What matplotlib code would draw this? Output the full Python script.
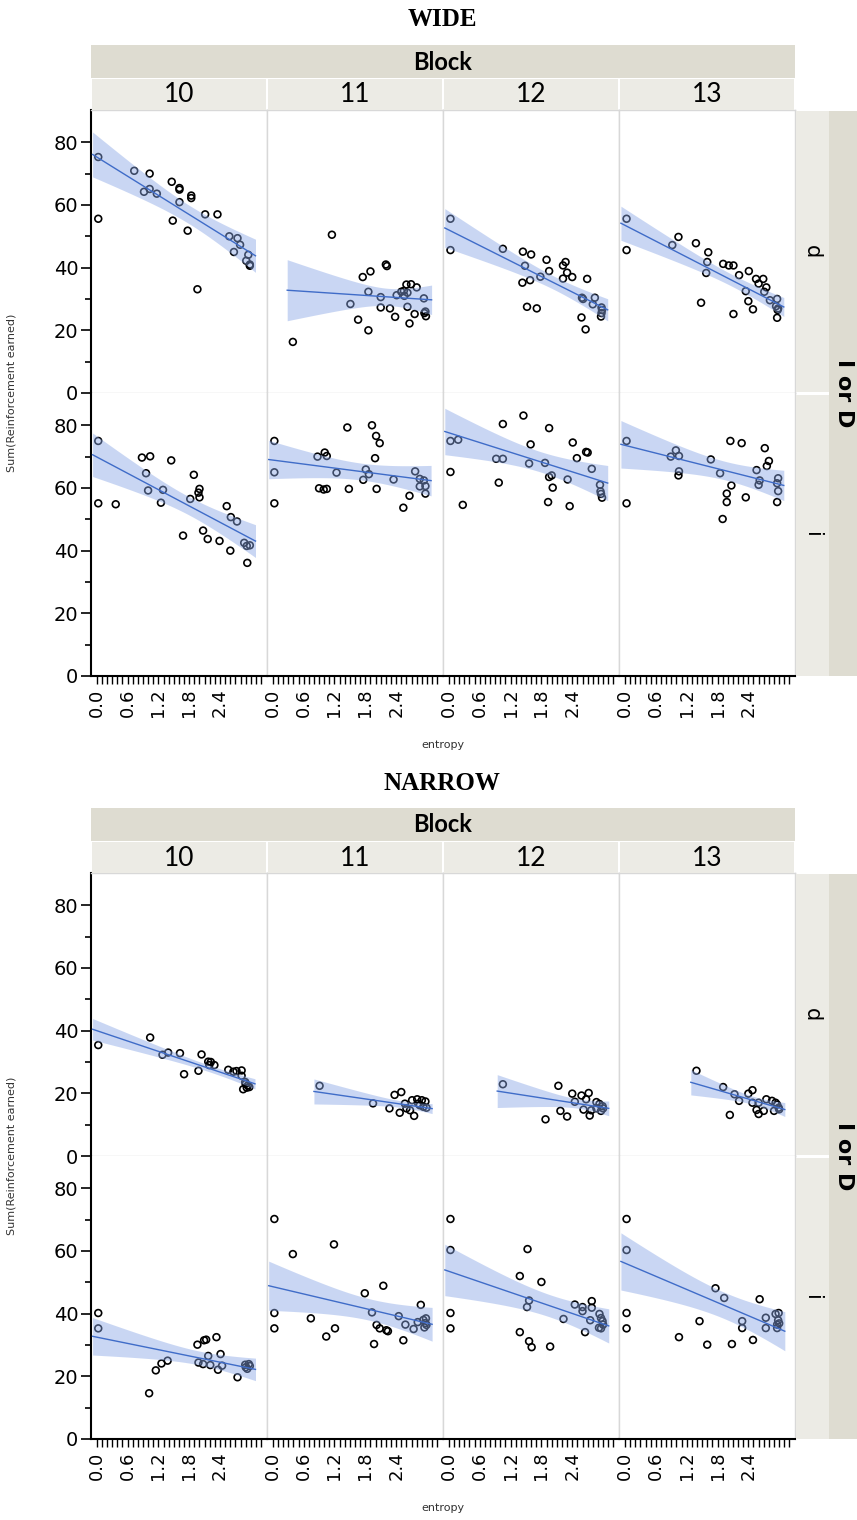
import numpy as np
import matplotlib
matplotlib.use("Agg")
import matplotlib.pyplot as plt
from matplotlib.patches import Rectangle
from matplotlib.ticker import FixedLocator

# ---------------- data ----------------
TITLES = ["WIDE", "NARROW"]
BLOCKS = ["10", "11", "12", "13"]
ROWS = ["d", "i"]
X_TICKS = [0.0, 0.6, 1.2, 1.8, 2.4]
X_TICK_LABELS = ["0.0", "0.6", "1.2", "1.8", "2.4"]
Y_TICKS = [0, 20, 40, 60, 80]

WIDE_D10_X = [0.03, 0.03, 0.73, 1.03, 0.92, 1.03, 1.17, 1.46, 1.61, 1.61, 1.61, 1.48, 1.84, 1.84, 1.77, 2.11, 2.35, 1.96, 2.58, 2.74, 2.79, 2.67, 2.95, 2.91, 2.98, 2.98]
WIDE_D10_Y = [75.3, 55.6, 70.9, 70.0, 64.2, 65.1, 63.6, 67.4, 64.9, 65.4, 60.9, 55.0, 63.0, 62.2, 51.8, 57.0, 57.0, 33.1, 50.0, 49.4, 47.3, 45.0, 44.1, 42.2, 41.0, 40.6]
WIDE_D11_X = [1.15, 0.39, 1.51, 1.66, 1.86, 1.86, 1.75, 1.90, 2.20, 2.22, 2.10, 2.10, 2.28, 2.38, 2.41, 2.50, 2.55, 2.60, 2.69, 2.80, 2.56, 2.62, 2.62, 2.66, 2.76, 2.94, 2.95, 2.97, 2.98]
WIDE_D11_Y = [50.5, 16.3, 28.4, 23.4, 20.0, 32.3, 37.0, 38.8, 41.0, 40.5, 30.6, 27.3, 27.0, 24.3, 31.2, 32.3, 32.6, 34.6, 34.7, 33.7, 31.0, 32.0, 27.5, 22.2, 25.2, 30.2, 25.5, 26.0, 24.5]
WIDE_D12_X = [0.03, 0.03, 1.05, 1.44, 1.60, 1.48, 1.43, 1.58, 1.78, 1.52, 1.71, 1.90, 1.95, 2.22, 2.27, 2.30, 2.22, 2.40, 2.69, 2.59, 2.61, 2.84, 2.80, 2.58, 2.66, 2.97, 2.98, 2.97, 2.96]
WIDE_D12_Y = [55.6, 45.6, 46.0, 45.1, 44.2, 40.6, 35.2, 36.0, 37.1, 27.5, 27.0, 42.5, 38.9, 40.7, 41.8, 38.4, 36.5, 37.0, 36.4, 30.4, 30.0, 30.4, 28.3, 24.1, 20.3, 27.3, 26.5, 25.5, 24.4]
WIDE_D13_X = [0.03, 0.03, 0.92, 1.04, 1.38, 1.62, 1.60, 1.58, 1.48, 1.91, 2.02, 2.11, 2.22, 2.41, 2.11, 2.35, 2.40, 2.49, 2.55, 2.69, 2.60, 2.75, 2.71, 2.82, 2.96, 2.94, 2.97, 2.98, 2.96]
WIDE_D13_Y = [55.6, 45.6, 47.2, 49.8, 47.8, 44.9, 41.8, 38.3, 28.8, 41.2, 40.7, 40.7, 37.6, 38.9, 25.2, 32.5, 29.3, 26.7, 36.4, 36.4, 34.9, 33.7, 32.3, 29.6, 30.0, 27.7, 26.5, 27.0, 24.0]

WIDE_I10_X = [0.03, 0.03, 0.37, 0.88, 1.04, 0.96, 1.00, 1.29, 1.25, 1.45, 1.68, 1.82, 1.89, 2.00, 1.98, 2.00, 2.07, 2.16, 2.39, 2.53, 2.61, 2.73, 2.60, 2.87, 2.92, 2.98, 2.93]
WIDE_I10_Y = [75.0, 55.1, 54.8, 69.7, 70.1, 64.7, 59.2, 59.4, 55.3, 68.8, 44.8, 56.5, 64.2, 59.7, 58.5, 57.0, 46.4, 43.7, 43.1, 54.2, 50.7, 49.3, 40.0, 42.5, 41.5, 41.7, 36.1]
WIDE_I11_X = [0.03, 0.03, 0.03, 0.87, 1.01, 1.05, 0.90, 0.99, 1.05, 1.24, 1.45, 1.48, 1.76, 1.81, 1.87, 1.93, 2.01, 2.08, 1.99, 2.02, 2.35, 2.54, 2.66, 2.77, 2.86, 2.94, 2.86, 2.97, 2.97]
WIDE_I11_Y = [75.0, 65.0, 55.1, 70.0, 71.3, 70.2, 59.9, 59.5, 59.7, 64.9, 79.3, 59.7, 62.6, 65.9, 64.4, 80.0, 76.6, 74.3, 69.5, 59.7, 62.7, 53.7, 57.5, 65.3, 62.9, 62.4, 60.5, 60.6, 58.2]
WIDE_I12_X = [0.03, 0.18, 0.03, 0.27, 1.05, 0.92, 1.05, 0.97, 1.45, 1.59, 1.56, 1.87, 1.95, 1.95, 2.00, 2.02, 1.93, 2.31, 2.35, 2.41, 2.49, 2.67, 2.70, 2.78, 2.94, 2.95, 2.96, 2.98]
WIDE_I12_Y = [75.0, 75.4, 65.1, 54.6, 80.4, 69.3, 69.3, 61.7, 83.1, 73.9, 67.8, 68.0, 79.1, 63.5, 64.0, 60.1, 55.5, 62.7, 54.2, 74.5, 69.5, 71.5, 71.3, 66.1, 61.0, 58.9, 58.1, 56.9]
WIDE_I13_X = [0.03, 0.03, 0.89, 0.99, 1.05, 1.05, 1.04, 1.67, 1.85, 2.05, 2.27, 2.07, 1.98, 1.98, 1.90, 2.35, 2.56, 2.62, 2.60, 2.72, 2.80, 2.76, 2.98, 2.96, 2.98, 2.96]
WIDE_I13_Y = [75.0, 55.1, 70.0, 72.0, 70.2, 65.3, 64.0, 69.1, 64.7, 75.0, 74.3, 60.8, 58.2, 55.5, 50.1, 57.0, 65.7, 62.4, 61.0, 72.7, 68.6, 67.0, 63.1, 61.5, 59.0, 55.5]

NARROW_D10_X = [0.03, 1.04, 1.28, 1.39, 1.62, 1.70, 1.98, 2.04, 2.17, 2.22, 2.29, 2.19, 2.56, 2.66, 2.72, 2.82, 2.82, 2.85, 2.90, 2.94, 2.97, 2.92, 2.89]
NARROW_D10_Y = [35.4, 37.8, 32.3, 33.0, 32.8, 26.1, 27.2, 32.4, 30.1, 30.0, 29.0, 29.0, 27.5, 26.9, 27.1, 27.3, 25.6, 21.3, 23.0, 22.5, 22.0, 21.8, 23.6]
NARROW_D11_X = [0.91, 1.95, 2.27, 2.37, 2.50, 2.47, 2.60, 2.75, 2.67, 2.71, 2.81, 2.90, 2.97, 2.83, 2.93, 2.99, 2.86, 2.57]
NARROW_D11_Y = [22.4, 16.8, 15.2, 19.5, 20.4, 13.8, 15.2, 12.8, 14.6, 17.8, 18.1, 17.8, 17.4, 16.7, 15.7, 15.4, 16.2, 16.7]
NARROW_D12_X = [1.05, 2.13, 1.88, 2.17, 2.30, 2.40, 2.45, 2.58, 2.72, 2.67, 2.62, 2.77, 2.74, 2.87, 2.93, 2.99, 2.96, 2.87, 3.00]
NARROW_D12_Y = [22.9, 22.4, 11.7, 14.4, 12.6, 19.9, 17.3, 19.3, 20.1, 18.1, 14.8, 14.6, 12.9, 17.2, 16.6, 15.9, 14.4, 15.2, 15.2]
NARROW_D13_X = [1.39, 1.91, 2.13, 2.22, 2.04, 2.40, 2.48, 2.48, 2.60, 2.56, 2.60, 2.70, 2.75, 2.86, 2.93, 2.99, 2.90, 3.00, 2.96]
NARROW_D13_Y = [27.2, 22.0, 19.7, 17.6, 13.1, 19.9, 21.0, 17.0, 17.0, 14.7, 13.4, 14.4, 18.1, 17.6, 17.0, 15.4, 14.4, 14.9, 16.4]

NARROW_I10_X = [0.03, 0.03, 1.02, 1.15, 1.26, 1.38, 1.96, 2.09, 2.13, 2.33, 2.17, 2.41, 1.98, 2.07, 2.21, 2.36, 2.44, 2.74, 2.90, 2.96, 2.93, 2.98, 2.89]
NARROW_I10_Y = [40.2, 35.3, 14.6, 21.9, 24.1, 25.0, 30.1, 31.5, 31.7, 32.5, 26.5, 27.1, 24.4, 23.9, 23.6, 22.1, 23.4, 19.7, 22.9, 23.9, 22.4, 23.3, 23.7]
NARROW_I11_X = [0.03, 0.03, 0.03, 0.39, 0.74, 1.04, 1.21, 1.19, 1.79, 2.15, 1.93, 2.02, 2.08, 2.21, 2.24, 1.97, 2.45, 2.54, 2.58, 2.74, 2.88, 2.82, 2.93, 2.98, 2.95, 2.99, 2.97]
NARROW_I11_Y = [70.2, 40.2, 35.3, 59.0, 38.5, 32.7, 35.3, 62.1, 46.5, 48.9, 40.4, 36.4, 35.3, 34.7, 34.4, 30.3, 39.2, 31.5, 36.5, 35.1, 42.8, 37.3, 38.0, 38.5, 35.6, 36.4, 37.0]
NARROW_I12_X = [0.03, 0.03, 0.03, 0.03, 1.53, 1.38, 1.80, 1.56, 1.52, 1.38, 1.56, 1.61, 1.97, 2.23, 2.45, 2.60, 2.60, 2.78, 2.78, 2.65, 2.75, 2.93, 2.96, 2.99, 2.92, 2.96, 3.00]
NARROW_I12_Y = [70.2, 60.3, 40.2, 35.3, 60.6, 52.0, 50.1, 44.2, 42.1, 34.1, 31.2, 29.3, 29.5, 38.3, 42.9, 42.1, 40.8, 44.0, 41.9, 34.1, 37.9, 39.9, 38.6, 37.6, 35.5, 35.3, 36.5]
NARROW_I13_X = [0.03, 0.03, 0.03, 0.03, 1.05, 1.45, 1.60, 1.76, 1.93, 2.08, 2.28, 2.28, 2.49, 2.62, 2.74, 2.74, 2.93, 2.99, 2.96, 2.98, 3.00, 2.96]
NARROW_I13_Y = [70.2, 60.3, 40.2, 35.3, 32.5, 37.6, 30.1, 48.1, 45.0, 30.3, 37.6, 35.4, 31.6, 44.6, 38.7, 35.4, 39.9, 40.2, 35.4, 37.9, 36.9, 36.5]

# fitted lines (intercept, slope per block 10..13)
WIDE_D_FIT_B0 = [75.3, 33.1, 52.0, 53.5]
WIDE_D_FIT_B1 = [-10.2, -1.09, -8.24, -8.43]
WIDE_I_FIT_B0 = [69.9, 68.9, 77.6, 73.6]
WIDE_I_FIT_B1 = [-8.69, -2.13, -5.19, -4.14]
NARROW_D_FIT_B0 = [40.0, 22.5, 23.1, 29.6]
NARROW_D_FIT_B1 = [-5.51, -2.38, -2.54, -4.75]
NARROW_I_FIT_B0 = [32.5, 48.6, 53.5, 56.1]
NARROW_I_FIT_B1 = [-3.33, -3.87, -5.60, -6.98]

PANELS = {
    ("WIDE", "d"): [(WIDE_D10_X, WIDE_D10_Y), (WIDE_D11_X, WIDE_D11_Y), (WIDE_D12_X, WIDE_D12_Y), (WIDE_D13_X, WIDE_D13_Y)],
    ("WIDE", "i"): [(WIDE_I10_X, WIDE_I10_Y), (WIDE_I11_X, WIDE_I11_Y), (WIDE_I12_X, WIDE_I12_Y), (WIDE_I13_X, WIDE_I13_Y)],
    ("NARROW", "d"): [(NARROW_D10_X, NARROW_D10_Y), (NARROW_D11_X, NARROW_D11_Y), (NARROW_D12_X, NARROW_D12_Y), (NARROW_D13_X, NARROW_D13_Y)],
    ("NARROW", "i"): [(NARROW_I10_X, NARROW_I10_Y), (NARROW_I11_X, NARROW_I11_Y), (NARROW_I12_X, NARROW_I12_Y), (NARROW_I13_X, NARROW_I13_Y)],
}
FITS = {
    ("WIDE", "d"): (WIDE_D_FIT_B0, WIDE_D_FIT_B1),
    ("WIDE", "i"): (WIDE_I_FIT_B0, WIDE_I_FIT_B1),
    ("NARROW", "d"): (NARROW_D_FIT_B0, NARROW_D_FIT_B1),
    ("NARROW", "i"): (NARROW_I_FIT_B0, NARROW_I_FIT_B1),
}

# ---------------- figure ----------------
W, H = 857, 1520
fig = plt.figure(figsize=(W / 100, H / 100), dpi=100)

STRIP_DARK = "#dedcd1"
STRIP_LIGHT = "#ecebe5"
GRID = "#d8d8d8"
BAND = "#89a6e6"
LINE = "#3f6cc8"


def fx(px):
    return px / W


def fy(py):
    return 1 - py / H


def rect(x0, y0, x1, y1, color):
    fig.patches.append(Rectangle((fx(x0), fy(y1)), fx(x1) - fx(x0), fy(y0) - fy(y1),
                                 transform=fig.transFigure, facecolor=color,
                                 edgecolor="none", zorder=0))


def t_quant(df):
    z = 1.959964
    return z + (z ** 3 + z) / (4 * df) + (5 * z ** 5 + 16 * z ** 3 + 3 * z) / (96 * df ** 2)


def band(x, y, b0, b1, xs):
    """Line b0 + b1*x with a 95% confidence band built from the data's scatter."""
    x = np.asarray(x, float)
    y = np.asarray(y, float)
    n = len(x)
    resid = y - (b0 + b1 * x)
    s = np.sqrt(resid @ resid / (n - 2))
    mx = x.mean()
    sxx = ((x - mx) ** 2).sum()
    pred = b0 + b1 * xs
    half = t_quant(n - 2) * s * np.sqrt(1.0 / n + (xs - mx) ** 2 / sxx)
    return pred, pred - half, pred + half


LEFT = 90.7
PW = 176.1
XLIM = (-0.117, 3.31)
YLIM = (0, 90.3)
PAD = 0.11

for k, title in enumerate(TITLES):
    top = k * 763
    fig.text(fx(442), fy(top + 20), title, ha="center", va="center",
             fontsize=18, fontweight="bold", family="Liberation Serif")
    rect(LEFT, top + 45, LEFT + 4 * PW, top + 78, STRIP_DARK)
    fig.text(fx(LEFT + 2 * PW), fy(top + 62), "Block", ha="center", va="center",
             fontsize=17, fontweight="bold", family="Lato")
    for c, b in enumerate(BLOCKS):
        x0 = LEFT + c * PW
        rect(x0 + 1, top + 79, x0 + PW - 1, top + 110, STRIP_LIGHT)
        fig.text(fx(x0 + PW / 2), fy(top + 95), b, ha="center", va="center",
                 fontsize=19, family="Lato")
    # right strips
    rect(LEFT + 4 * PW + 1, top + 111, 829, top + 392, STRIP_LIGHT)
    rect(LEFT + 4 * PW + 1, top + 395, 829, top + 676, STRIP_LIGHT)
    rect(829, top + 111, 857, top + 676, STRIP_DARK)
    fig.text(fx(812), fy(top + 252), "d", ha="center", va="center", rotation=-90,
             fontsize=15, family="DejaVu Sans")
    fig.text(fx(812), fy(top + 535), "i", ha="center", va="center", rotation=-90,
             fontsize=15, family="DejaVu Sans")
    fig.text(fx(844), fy(top + 393), "I or D", ha="center", va="center", rotation=-90,
             fontsize=16, fontweight="bold", family="DejaVu Sans")
    fig.text(fx(12), fy(top + 393), "Sum(Reinforcement earned)", ha="center", va="center",
             rotation=90, fontsize=8, color="#333333", family="DejaVu Sans")
    fig.text(fx(443), fy(top + 745), "entropy", ha="center", va="center",
             fontsize=8, color="#333333", family="DejaVu Sans")

    for r, row in enumerate(ROWS):
        y0 = top + 110 + r * 283
        b0s, b1s = FITS[(title, row)]
        for c in range(4):
            x0 = LEFT + c * PW
            ax = fig.add_axes([fx(x0), fy(y0 + 283), PW / W, 283 / H])
            ax.set_xlim(*XLIM)
            ax.set_ylim(*YLIM)
            xs_d, ys_d = PANELS[(title, row)][c]
            ax.scatter(xs_d, ys_d, s=24, facecolors="none", edgecolors="black",
                       linewidths=1.2, zorder=2)
            xs = np.linspace(min(xs_d) - PAD, max(xs_d) + PAD, 100)
            pred, lo, hi = band(xs_d, ys_d, b0s[c], b1s[c], xs)
            ax.fill_between(xs, lo, hi, color=BAND, alpha=0.45, lw=0, zorder=3)
            ax.plot(xs, pred, color=LINE, lw=1.0, zorder=4)
            for s in ax.spines.values():
                s.set_color(GRID)
                s.set_linewidth(1.0)
            ax.spines["top"].set_visible(r == 0)
            if c == 0:
                ax.spines["left"].set_color("black")
                ax.spines["left"].set_linewidth(1.5)
                ax.yaxis.set_major_locator(FixedLocator(Y_TICKS))
                ax.yaxis.set_minor_locator(FixedLocator([10, 30, 50, 70]))
                ax.tick_params(axis="y", which="major", length=7, width=1.2, labelsize=14,
                               pad=2)
                ax.tick_params(axis="y", which="minor", length=4, width=1.2)
            else:
                ax.set_yticks([])
            if r == 1:
                ax.spines["bottom"].set_color("black")
                ax.spines["bottom"].set_linewidth(1.5)
                ax.xaxis.set_major_locator(FixedLocator(X_TICKS))
                ax.set_xticklabels(X_TICK_LABELS, rotation=90)
                ax.xaxis.set_minor_locator(FixedLocator(np.arange(0, 3.25, 0.1)))
                ax.tick_params(axis="x", which="major", length=6, width=1.0, labelsize=13,
                               pad=3)
                ax.tick_params(axis="x", which="minor", length=6, width=1.0)
            else:
                ax.set_xticks([])
            for lab in ax.get_xticklabels() + ax.get_yticklabels():
                lab.set_family("DejaVu Sans")

fig.savefig("out.png", dpi=100)
